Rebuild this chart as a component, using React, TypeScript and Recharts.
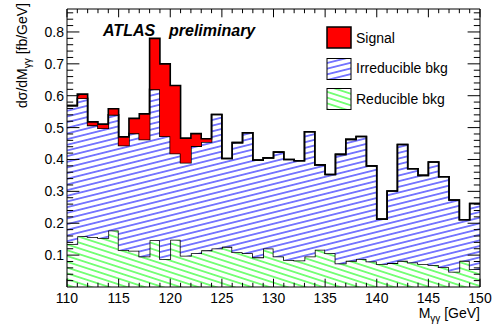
import React from "react";
import { ComposedChart, Area, XAxis, YAxis, Legend } from "recharts";

const massBins = [110, 111, 112, 113, 114, 115, 116, 117, 118, 119, 120, 121, 122, 123, 124, 125, 126, 127, 128, 129, 130, 131, 132, 133, 134, 135, 136, 137, 138, 139, 140, 141, 142, 143, 144, 145, 146, 147, 148, 149];
const massMax = 150;

const reducibleBkg = [0.135, 0.159, 0.157, 0.154, 0.177, 0.116, 0.114, 0.096, 0.147, 0.088, 0.148, 0.098, 0.106, 0.115, 0.121, 0.126, 0.109, 0.106, 0.093, 0.121, 0.096, 0.085, 0.083, 0.096, 0.117, 0.106, 0.074, 0.082, 0.088, 0.080, 0.072, 0.075, 0.082, 0.077, 0.072, 0.069, 0.062, 0.048, 0.082, 0.056];
const irreducibleBkg = [0.434, 0.433, 0.350, 0.344, 0.363, 0.328, 0.368, 0.367, 0.473, 0.385, 0.271, 0.292, 0.336, 0.340, 0.420, 0.277, 0.344, 0.378, 0.305, 0.284, 0.327, 0.315, 0.313, 0.391, 0.266, 0.247, 0.342, 0.381, 0.384, 0.300, 0.141, 0.226, 0.365, 0.294, 0.278, 0.323, 0.284, 0.225, 0.129, 0.206];
const signal = [0, 0.013, 0.011, 0.013, 0.019, 0.027, 0.047, 0.080, 0.160, 0.227, 0.213, 0.077, 0.039, 0.010, 0, 0, 0, 0, 0, 0, 0, 0, 0, 0, 0, 0, 0, 0, 0, 0, 0, 0, 0, 0, 0, 0, 0, 0, 0, 0];

const xTicks = [110, 111, 112, 113, 114, 115, 116, 117, 118, 119, 120, 121, 122, 123, 124, 125, 126, 127, 128, 129, 130, 131, 132, 133, 134, 135, 136, 137, 138, 139, 140, 141, 142, 143, 144, 145, 146, 147, 148, 149, 150];
const yTicks = [0.02, 0.04, 0.06, 0.08, 0.1, 0.12, 0.14, 0.16, 0.18, 0.2, 0.22, 0.24, 0.26, 0.28, 0.3, 0.32, 0.34, 0.36, 0.38, 0.4, 0.42, 0.44, 0.46, 0.48, 0.5, 0.52, 0.54, 0.56, 0.58, 0.6, 0.62, 0.64, 0.66, 0.68, 0.7, 0.72, 0.74, 0.76, 0.78, 0.8, 0.82, 0.84, 0.86];

const data = [
  ...massBins.map((m, i) => ({ m, red: reducibleBkg[i], irr: irreducibleBkg[i], sig: signal[i] })),
  { m: massMax, red: reducibleBkg[reducibleBkg.length - 1], irr: irreducibleBkg[irreducibleBkg.length - 1], sig: signal[signal.length - 1] },
];

const FONT = "'Liberation Sans', Arial, Helvetica, sans-serif";
const XMAJ = 8.3, XMIN = 4.2, YMAJ = 12.4, YMIN = 6.2;

const isXMajor = (v: number) => Math.round(v) % 5 === 0;
const isYMajor = (v: number) => Math.round(v * 100) % 10 === 0;

const BottomTick = (p: any) => {
  const v = p.payload.value;
  const maj = isXMajor(v);
  return (
    <g>
      <line x1={p.x} x2={p.x} y1={p.y} y2={p.y - (maj ? XMAJ : XMIN)} stroke="#000" strokeWidth={1} />
      {maj && (
        <text x={p.x} y={p.y + 16} textAnchor="middle" fontSize={14} fontFamily={FONT} fill="#000">{v}</text>
      )}
    </g>
  );
};
const TopTick = (p: any) => {
  const v = p.payload.value;
  const maj = isXMajor(v);
  return <line x1={p.x} x2={p.x} y1={p.y} y2={p.y + (maj ? XMAJ : XMIN)} stroke="#000" strokeWidth={1} />;
};
const LeftTick = (p: any) => {
  const v = p.payload.value;
  const maj = isYMajor(v);
  return (
    <g>
      <line x1={p.x} x2={p.x + (maj ? YMAJ : YMIN)} y1={p.y} y2={p.y} stroke="#000" strokeWidth={1} />
      {maj && (
        <text x={p.x - 3} y={p.y + 5} textAnchor="end" fontSize={14} fontFamily={FONT} fill="#000">{v.toFixed(1)}</text>
      )}
    </g>
  );
};
const RightTick = (p: any) => {
  const v = p.payload.value;
  const maj = isYMajor(v);
  return <line x1={p.x} x2={p.x - (maj ? YMAJ : YMIN)} y1={p.y} y2={p.y} stroke="#000" strokeWidth={1} />;
};

const Hatches = ({ prefix }: { prefix: string }) => (
  <defs>
    <pattern id={prefix + "blue"} patternUnits="userSpaceOnUse" width={20} height={5.5} patternTransform="rotate(-14)">
      <rect x={0} y={0} width={20} height={5.5} fill="#fff" />
      <line x1={0} x2={20} y1={2.75} y2={2.75} stroke="#0000ff" strokeWidth={1} />
    </pattern>
    <pattern id={prefix + "green"} patternUnits="userSpaceOnUse" width={20} height={5.5} patternTransform="rotate(18)">
      <rect x={0} y={0} width={20} height={5.5} fill="#fff" />
      <line x1={0} x2={20} y1={2.75} y2={2.75} stroke="#00ff00" strokeWidth={1} />
    </pattern>
  </defs>
);

const Overlay = () => (
  <svg width={495} height={325} style={{ display: "block" }}>
    <Hatches prefix="lg" />
    <text x={103} y={36} fontSize={16} fontWeight="bold" fontStyle="italic" fontFamily={FONT} fill="#000">ATLAS</text>
    <text x={169} y={36} fontSize={16} fontWeight="bold" fontStyle="italic" fontFamily={FONT} fill="#000">preliminary</text>

    <rect x={327} y={27} width={24} height={21} fill="#ff0000" stroke="#000" strokeWidth={1.5} />
    <text x={356} y={43} fontSize={14} fontFamily={FONT} fill="#000">Signal</text>
    <rect x={327} y={58.5} width={24} height={21} fill="url(#lgblue)" stroke="#000" strokeWidth={1} />
    <text x={356} y={73} fontSize={14} fontFamily={FONT} fill="#000">Irreducible bkg</text>
    <rect x={327} y={88.5} width={24} height={21} fill="url(#lggreen)" stroke="#000" strokeWidth={1} />
    <text x={356} y={103.5} fontSize={14} fontFamily={FONT} fill="#000">Reducible bkg</text>

    <text x={480} y={318} textAnchor="end" fontSize={14} fontFamily={FONT} fill="#000">
      M<tspan fontSize={10} dy={4}>γγ</tspan><tspan dy={-4} fontSize={14}> [GeV]</tspan>
    </text>
    <text transform="translate(27,3) rotate(-90)" x={0} y={0} textAnchor="end" fontSize={14} fontFamily={FONT} fill="#000">
      dσ/dM<tspan fontSize={10} dy={4}>γγ</tspan><tspan dy={-4} fontSize={14}> [fb/GeV]</tspan>
    </text>
  </svg>
);

export default function App() {
  return (
    <div style={{ position: "absolute", left: 0, top: 0, width: 495, height: 325, background: "#fff" }}>
      <ComposedChart width={495} height={325} data={data} margin={{ top: 8, right: 14, bottom: 37, left: 66 }}>
        <Hatches prefix="ch" />
        <XAxis dataKey="m" type="number" domain={[110, 150]} ticks={xTicks} interval={0} height={1}
          tickLine={false} tickSize={0} tickMargin={0} axisLine={{ stroke: "#000", strokeWidth: 1 }} tick={BottomTick} allowDataOverflow />
        <XAxis xAxisId="top" orientation="top" dataKey="m" type="number" domain={[110, 150]} ticks={xTicks} interval={0} height={1}
          tickLine={false} tickSize={0} tickMargin={0} axisLine={{ stroke: "#000", strokeWidth: 1 }} tick={TopTick} allowDataOverflow />
        <YAxis type="number" domain={[0, 0.872]} ticks={yTicks} interval={0} width={1}
          tickLine={false} tickSize={0} tickMargin={0} axisLine={{ stroke: "#000", strokeWidth: 1 }} tick={LeftTick} allowDataOverflow />
        <YAxis yAxisId="right" orientation="right" type="number" domain={[0, 0.872]} ticks={yTicks} interval={0} width={1}
          tickLine={false} tickSize={0} tickMargin={0} axisLine={{ stroke: "#000", strokeWidth: 1 }} tick={RightTick} allowDataOverflow />
        <Area type="stepAfter" dataKey="red" stackId="s" stroke="#000" strokeWidth={1.6} fill="url(#chgreen)" fillOpacity={1} isAnimationActive={false} dot={false} activeDot={false} />
        <Area type="stepAfter" dataKey="irr" stackId="s" stroke="#000" strokeWidth={1.6} fill="url(#chblue)" fillOpacity={1} isAnimationActive={false} dot={false} activeDot={false} />
        <Area type="stepAfter" dataKey="sig" stackId="s" stroke="#000" strokeWidth={1.6} fill="#ff0000" fillOpacity={1} isAnimationActive={false} dot={false} activeDot={false} />
        <Legend layout="vertical" align="center" verticalAlign="middle"
          wrapperStyle={{ position: "absolute", left: 0, top: 0, width: 495, height: 325, pointerEvents: "none" }}
          content={() => <Overlay />} />
      </ComposedChart>
    </div>
  );
}
